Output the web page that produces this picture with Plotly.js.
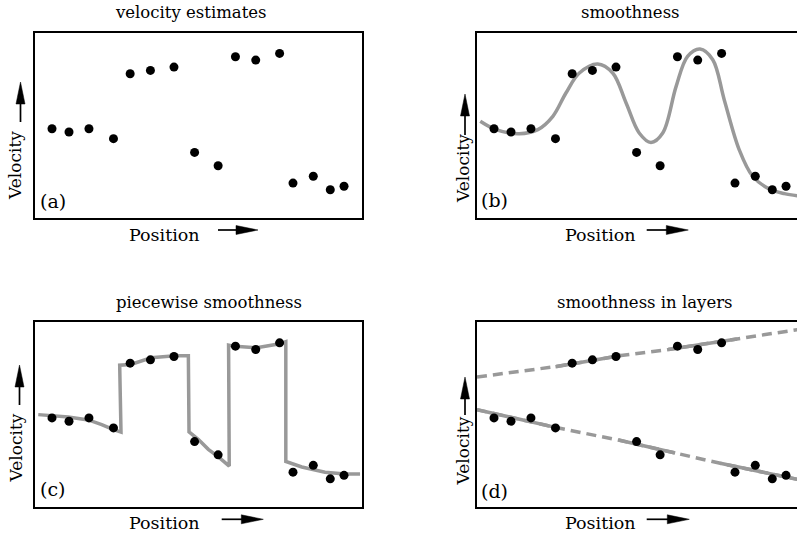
<!DOCTYPE html>
<html>
<head>
<meta charset="utf-8">
<script src="https://cdn.plot.ly/plotly-3.0.1.min.js"></script>
<style>html,body{margin:0;padding:0;background:#fff;overflow:hidden;}</style>
</head>
<body>
<div id="chart" style="width:797px;height:536px;"></div>
<script>
// ---- data (arbitrary units: position 0-100, velocity 0-100) ----
const posX = [5.2, 10.4, 16.5, 24.0, 29.1, 35.3, 42.5, 48.8, 56.0, 61.3, 67.5, 74.8, 78.9, 85.1, 90.3, 94.5];
const velY = [48.0, 46.2, 48.0, 42.6, 77.7, 79.5, 81.3, 35.2, 28.0, 86.9, 85.1, 88.7, 18.6, 22.3, 15.0, 16.9];

// (b) global smooth fit
const smoothX = [1, 5.8, 12.9, 18.6, 23.2, 27.2, 31.3, 36.9, 41.5, 45.6, 49.6, 53.2, 56.8, 60.9, 64.4, 68.2, 72.1, 75.6, 80.2, 84.3, 89.4, 94.0, 100];
const smoothY = [52.0, 47.5, 45.3, 47.5, 54.7, 67.3, 78.1, 83.0, 78.1, 61.9, 45.7, 40.6, 45.7, 70.9, 87.1, 91.1, 85.3, 63.7, 36.6, 22.3, 15.4, 12.9, 11.3];

// (c) piecewise smooth fit
const pieceX = [1, 10.2, 16.3, 20.4, 24.0, 26.3, 25.9, 29.3, 35.5, 42.8, 46.9, 47.1, 50.0, 53.0, 56.0, 59.4, 59.2, 61.2, 67.8, 74.9, 76.7, 76.7, 81.6, 88.7, 94.8, 99.4];
const pieceY = [49.8, 48.5, 46.9, 44.4, 41.7, 40.3, 76.6, 77.0, 80.6, 81.7, 81.7, 40.4, 36.3, 31.0, 27.0, 21.9, 87.5, 86.8, 86.0, 88.2, 89.3, 24.4, 21.4, 18.6, 17.6, 17.6];

// (d) layers
const upperX = [0, 24, 44, 58.5, 79.5, 100];
const upperY = [70.2, 75.8, 81.8, 85.1, 90.8, 96.4];
const upperSolid = [[1, 2], [3, 4]];
const lowerX = [0, 25, 43.3, 60.6, 74.4, 100];
const lowerY = [52.5, 42.5, 36.0, 29.0, 23.4, 14.0];
const lowerSolid = [[0, 1], [2, 3], [4, 5]];

const titles = ["velocity estimates", "smoothness", "piecewise smoothness", "smoothness in layers"];
const letters = ["(a)", "(b)", "(c)", "(d)"];
const xLabel = "Position";
const yLabel = "Velocity";

// ---- layout geometry (pixels) ----
const W = 797, H = 536;
const FONT = "DejaVu Serif, Liberation Serif, serif";
const GRAY = "#999999";
const px = x => x / W;
const py = y => 1 - y / H;

const panels = [
  {l: 35,  r: 362, t: 32.5, b: 217.5, xmax: 100,
   title: [191, 12.6], letter: [52.5, 201], pos: [164, 234.6], vel: [15, 166],
   harrow: [218, 258, 230], varrow: [20.5, 122, 82]},
  {l: 477, r: 797, t: 32.5, b: 217.5, xmax: 320 / 3.27,
   title: [630.5, 12.6], letter: [494.5, 200], pos: [600, 234.6], vel: [462.5, 168.5],
   harrow: [646.7, 688.3, 230], varrow: [465, 135, 94]},
  {l: 35,  r: 362, t: 322, b: 506.5, xmax: 100,
   title: [209.5, 302.6], letter: [52, 489], pos: [164, 523.2], vel: [15.5, 448],
   harrow: [221.7, 263.3, 519.3], varrow: [19.5, 405, 365]},
  {l: 477, r: 797, t: 322, b: 506.5, xmax: 320 / 3.27,
   title: [645, 302.6], letter: [494, 491], pos: [600, 523.2], vel: [462.5, 451],
   harrow: [646.7, 689.3, 519.3], varrow: [465, 415, 377]}
];

const layout = {
  width: W, height: H,
  margin: {l: 0, r: 0, t: 0, b: 0, pad: 0},
  paper_bgcolor: "#fff", plot_bgcolor: "#fff",
  showlegend: false,
  font: {family: FONT, color: "#000"},
  annotations: [], shapes: []
};

panels.forEach((p, i) => {
  const n = i === 0 ? "" : String(i + 1);
  const right = (i === 1 || i === 3);
  layout["xaxis" + n] = {
    domain: [px(p.l), px(p.r)], range: [0, p.xmax], anchor: "y" + n,
    showgrid: false, zeroline: false, showticklabels: false, ticks: "",
    showline: true, mirror: true, linecolor: "#000", linewidth: 2, fixedrange: true
  };
  layout["yaxis" + n] = {
    domain: [py(p.b), py(p.t)], range: [0, 100], anchor: "x" + n,
    showgrid: false, zeroline: false, showticklabels: false, ticks: "",
    showline: true, mirror: !right, linecolor: "#000", linewidth: 2, fixedrange: true
  };
  const A = (txt, xy, size, extra) => Object.assign({
    text: txt, xref: "paper", yref: "paper", x: px(xy[0]), y: py(xy[1]),
    xanchor: "center", yanchor: "middle", showarrow: false,
    font: {family: FONT, size: size, color: "#000"}
  }, extra || {});
  layout.annotations.push(A(titles[i], p.title, 16.5));
  layout.annotations.push(A(letters[i], p.letter, 19));
  layout.annotations.push(A(xLabel, p.pos, 17.5));
  layout.annotations.push(A(yLabel, p.vel, 17, {textangle: -90}));

  // horizontal arrow (Position ->)
  const [hx0, hx1, hy] = p.harrow;
  const L = 22, hw = 4.5;
  layout.shapes.push({type: "line", xref: "paper", yref: "paper",
    x0: px(hx0), y0: py(hy), x1: px(hx1 - L + 1), y1: py(hy), line: {color: "#000", width: 1.7}});
  layout.shapes.push({type: "path", xref: "paper", yref: "paper",
    path: `M${px(hx1 - L)},${py(hy - hw)} L${px(hx1)},${py(hy)} L${px(hx1 - L)},${py(hy + hw)} Z`,
    fillcolor: "#000", line: {color: "#000", width: 0.5}});
  // vertical arrow (Velocity ^)
  const [vx, vy0, vy1] = p.varrow;
  layout.shapes.push({type: "line", xref: "paper", yref: "paper",
    x0: px(vx), y0: py(vy0), x1: px(vx), y1: py(vy1 + L - 1), line: {color: "#000", width: 1.7}});
  layout.shapes.push({type: "path", xref: "paper", yref: "paper",
    path: `M${px(vx - hw)},${py(vy1 + L)} L${px(vx)},${py(vy1)} L${px(vx + hw)},${py(vy1 + L)} Z`,
    fillcolor: "#000", line: {color: "#000", width: 0.5}});
});

const dots = (ax) => ({
  type: "scatter", mode: "markers", x: posX, y: velY,
  xaxis: "x" + ax, yaxis: "y" + ax,
  marker: {color: "#000", size: 9, line: {width: 0}}, hoverinfo: "skip"
});
const line = (ax, x, y, extra) => ({
  type: "scatter", mode: "lines", x: x, y: y,
  xaxis: "x" + ax, yaxis: "y" + ax,
  line: Object.assign({color: GRAY, width: 3.5}, extra || {}), hoverinfo: "skip"
});

const data = [];
// (a)
data.push(dots(""));
// (b)
data.push(line("2", smoothX, smoothY, {shape: "spline", smoothing: 1}));
data.push(dots("2"));
// (c)
data.push(line("3", pieceX, pieceY));
data.push(dots("3"));
// (d)
data.push(line("4", upperX, upperY, {dash: "10px,6px"}));
data.push(line("4", lowerX, lowerY, {dash: "10px,6px"}));
upperSolid.forEach(s => data.push(line("4", upperX.slice(s[0], s[1] + 1), upperY.slice(s[0], s[1] + 1))));
lowerSolid.forEach(s => data.push(line("4", lowerX.slice(s[0], s[1] + 1), lowerY.slice(s[0], s[1] + 1))));
data.push(dots("4"));

Plotly.newPlot("chart", data, layout, {staticPlot: true, displayModeBar: false});
</script>
</body>
</html>
